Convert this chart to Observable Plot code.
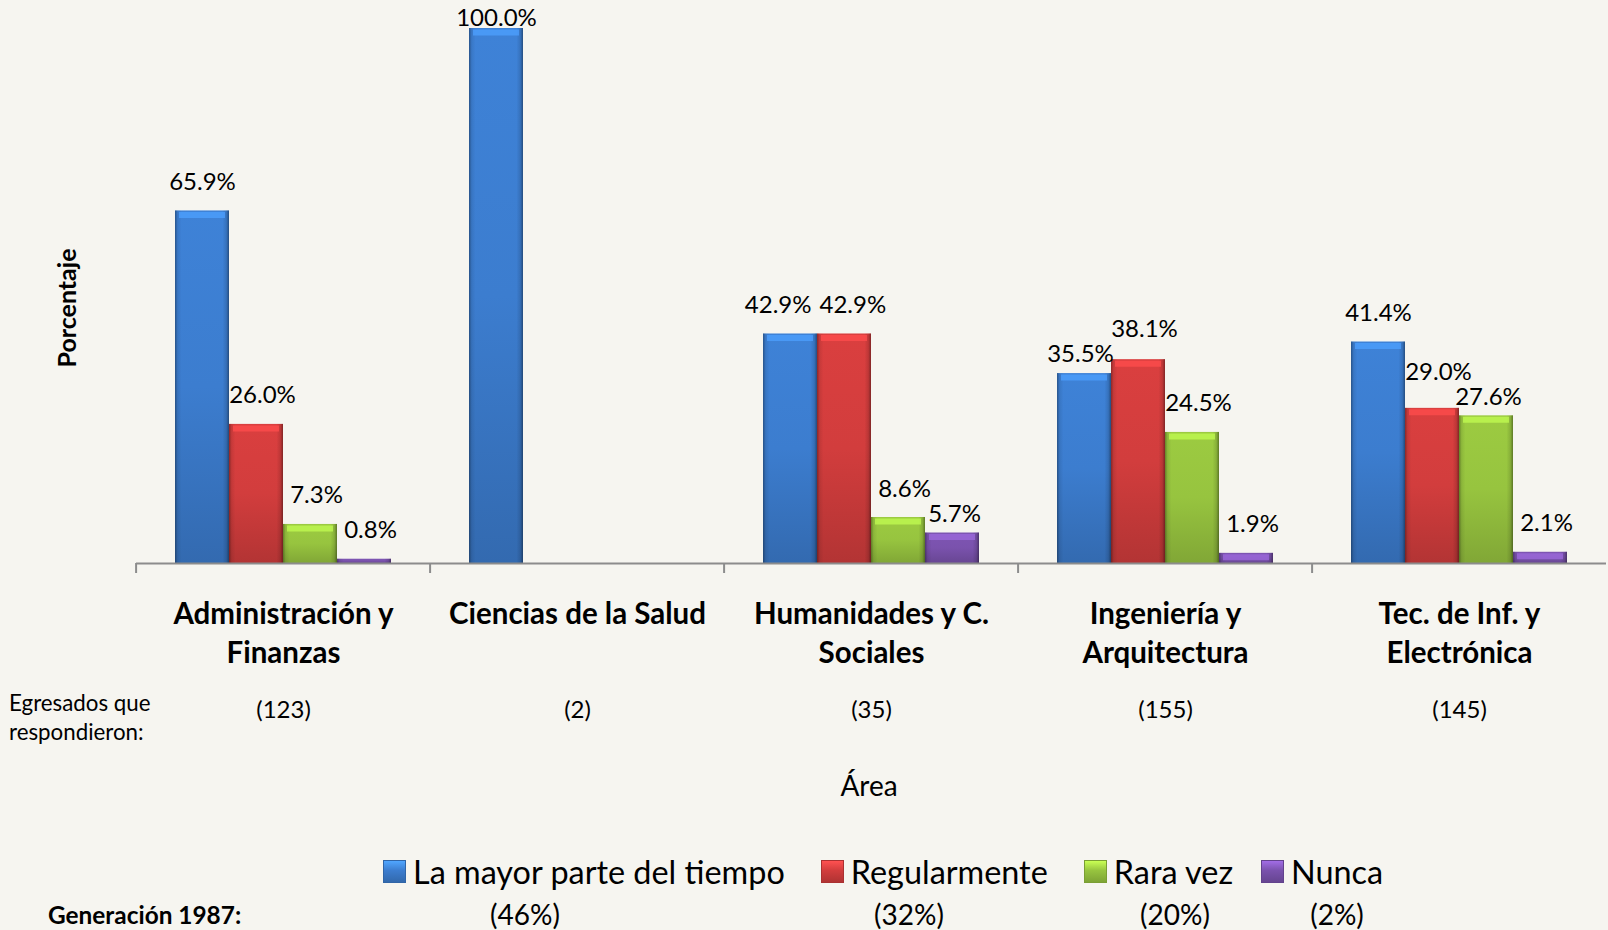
<!DOCTYPE html>
<html>
<head>
<meta charset="utf-8">
<script src="https://cdn.jsdelivr.net/npm/d3@7"></script>
<script src="https://cdn.jsdelivr.net/npm/@observablehq/plot@0.6"></script>
<style>
  html, body { margin: 0; padding: 0; background: #f6f5f0; }
  #wrap { position: relative; width: 1608px; height: 930px; overflow: hidden; font-family: Lato, "Open Sans", sans-serif; color: #000; }
  #chart { position: absolute; left: 0; top: 0; }
  .abs { position: absolute; white-space: nowrap; }
  #ylabel { left: 66px; top: 308px; transform: translate(-50%, -50%) rotate(-90deg); font-weight: bold; font-size: 25px; }
  #resp { left: 9px; top: 688px; font-size: 22.3px; line-height: 29px; }
  #xlabel { left: 869px; top: 785px; transform: translate(-50%, -50%); font-size: 28px; }
  #legend { left: 383px; top: 850px; height: 42px; display: flex; align-items: center; font-size: 32.4px; }
  .item { display: flex; align-items: center; margin-right: 36px; }
  .item:nth-child(3) { margin-right: 28px; }
  .sw { width: 23px; height: 23px; margin-right: 7px; box-sizing: border-box; }
  #gen { left: 48px; top: 914px; transform: translateY(-50%); font-weight: bold; font-size: 24.4px; }
  .gp { top: 914px; transform: translate(-50%, -50%); font-size: 28px; }
  g[aria-label="bars-fill"] { filter: drop-shadow(3px 3px 3px rgba(0,0,0,0.28)); }
</style>
</head>
<body>
<div id="wrap">
  <div id="chart"></div>
</div>
<script>
// ---- data ----
const areas = ["Administración y Finanzas", "Ciencias de la Salud", "Humanidades y C. Sociales", "Ingeniería y Arquitectura", "Tec. de Inf. y Electrónica"];
const areaLabels = ["Administración y\nFinanzas", "Ciencias de la Salud", "Humanidades y C.\nSociales", "Ingeniería y\nArquitectura", "Tec. de Inf. y\nElectrónica"];
const respondents = [123, 2, 35, 155, 145];
const series = ["La mayor parte del tiempo", "Regularmente", "Rara vez", "Nunca"];
const seriesColors = ["#3c7dcf", "#d23d3d", "#97c43f", "#7a52ad"];
const mayorParte = [65.9, 100.0, 42.9, 35.5, 41.4];
const regularmente = [26.0, null, 42.9, 38.1, 29.0];
const raraVez = [7.3, null, 8.6, 24.5, 27.6];
const nunca = [0.8, null, 5.7, 1.9, 2.1];
const generationLabel = "Generación 1987:";
const generationPct = [46, 32, 20, 2];
const yLabel = "Porcentaje";
const xLabel = "Área";
const respLabel = "Egresados que\nrespondieron:";

const seriesValues = [mayorParte, regularmente, raraVez, nunca];
const data = [];
series.forEach((s, j) => {
  areas.forEach((a, i) => {
    const v = seriesValues[j][i];
    if (v != null) data.push({area: a, series: s, value: v, k: j, i, place: v >= 100 ? "top" : "middle", ref: v});
  });
});
// label collision handling between neighbouring bars of the same area
areas.forEach((a, i) => {
  for (let j = 0; j < series.length - 1; j++) {
    const L = data.find(d => d.i === i && d.k === j);
    const R = data.find(d => d.i === i && d.k === j + 1);
    if (!L || !R || L.place !== "middle") continue;
    const diff = Math.abs(L.value - R.value);
    if (diff === 0) { L.place = "end"; R.place = "start"; }
    else if (diff < 4.5) {
      const [lo, hi] = L.value < R.value ? [L, R] : [R, L];
      lo.place = "low"; hi.place = "high"; hi.ref = lo.value;
    }
  }
});

const W = 1608, H = 850, ML = 134, MR = 0, MT = 28, MB = 287;
const fxStep = (W - ML - MR) / areas.length;
const fmt = d => d.value.toFixed(1) + "%";
const labelBase = {fx: "area", x: "series", y: "ref", text: fmt, fontSize: 24, fill: "#000"};
function labels(place, opts) {
  const dx = opts.dx || 0;
  return [
    Plot.text(data.filter(d => d.place === place && d.k === 0), {...labelBase, ...opts, dx}),
    Plot.text(data.filter(d => d.place === place && d.k > 0), {...labelBase, ...opts, dx: dx + (opts.textAnchor ? 0 : 6)})
  ];
}

const plot = Plot.plot({
  width: W,
  height: H,
  marginLeft: ML,
  marginRight: MR,
  marginTop: MT,
  marginBottom: MB,
  style: {background: "transparent", fontFamily: "Lato, 'Open Sans', sans-serif", color: "#000", overflow: "visible"},
  fx: {domain: areas, padding: 0, axis: null, label: null},
  x: {domain: series, paddingInner: 0, paddingOuter: 0.72, axis: null, label: null},
  y: {domain: [0, 100], axis: null, label: null},
  marks: [
    Plot.barY(data, {fx: "area", x: "series", y: "value", fill: d => `url(#gv${d.k})`, ariaLabel: "bars-fill"}),
    Plot.barY(data, {fx: "area", x: "series", y: "value", fill: "url(#edge)", ariaLabel: "bars-edge"}),
    Plot.tickY(data.filter(d => d.value >= 1.5), {fx: "area", x: "series", y: "value", dy: 4, strokeWidth: 6, insetLeft: 4, insetRight: 4, stroke: d => d3.color(seriesColors[d.k]).brighter(0.7).formatHex(), strokeOpacity: 0.75}),
    Plot.ruleY([0], {stroke: "#8c8c8c", strokeWidth: 2}),
    Plot.axisFx({anchor: "bottom", tickSize: 10, tickFormat: () => "", stroke: "#8c8c8c", strokeWidth: 2, dx: -fxStep / 2}),
    ...labels("middle", {dy: -29}),
    ...labels("low", {dy: -19, dx: -4}),
    ...labels("high", {dy: -44}),
    ...labels("end", {dy: -29, textAnchor: "end", dx: 21}),
    ...labels("start", {dy: -29, textAnchor: "start", dx: -25}),
    ...labels("top", {dy: -10}),
    Plot.text(areas, {fx: d => d, text: (d, i) => areaLabels[i], frameAnchor: "bottom", dy: 33, lineAnchor: "top", lineHeight: 1.32, fontSize: 29.5, fontWeight: "bold", fill: "#000"}),
    Plot.text(areas, {fx: d => d, text: (d, i) => `(${respondents[i]})`, frameAnchor: "bottom", dy: 154, fontSize: 24, fill: "#000"})
  ]
});

// gradients
const ns = "http://www.w3.org/2000/svg";
const defs = document.createElementNS(ns, "defs");
function grad(id, vertical, stops) {
  const g = document.createElementNS(ns, "linearGradient");
  g.setAttribute("id", id);
  g.setAttribute("x1", "0"); g.setAttribute("y1", "0");
  g.setAttribute("x2", vertical ? "0" : "1"); g.setAttribute("y2", vertical ? "1" : "0");
  stops.forEach(([o, c, op]) => {
    const s = document.createElementNS(ns, "stop");
    s.setAttribute("offset", o);
    s.setAttribute("stop-color", c);
    s.setAttribute("stop-opacity", op == null ? 1 : op);
    g.appendChild(s);
  });
  defs.appendChild(g);
}
seriesColors.forEach((c, k) => {
  const col = d3.color(c);
  grad(`gv${k}`, true, [["0", col.brighter(0.1).formatHex()], ["0.5", col.formatHex()], ["1", col.darker(0.45).formatHex()]]);
});
grad("edge", false, [["0", "#000", 0.35], ["0.05", "#000", 0.08], ["0.12", "#000", 0], ["0.88", "#000", 0], ["0.95", "#000", 0.12], ["1", "#000", 0.4]]);
const svg = plot.tagName.toLowerCase() === "svg" ? plot : plot.querySelector("svg");
svg.insertBefore(defs, svg.firstChild);
document.getElementById("chart").appendChild(plot);

// overlay texts
const wrap = document.getElementById("wrap");
function addDiv(id, cls, html) {
  const d = document.createElement("div");
  if (id) d.id = id;
  d.className = cls;
  d.innerHTML = html;
  wrap.appendChild(d);
  return d;
}
addDiv("ylabel", "abs", yLabel);
addDiv("resp", "abs", respLabel.replace("\n", "<br>"));
addDiv("xlabel", "abs", xLabel);
const legend = addDiv("legend", "abs", "");
series.forEach((s, k) => {
  const col = d3.color(seriesColors[k]);
  const it = document.createElement("div");
  it.className = "item";
  const sw = document.createElement("div");
  sw.className = "sw";
  sw.style.background = `linear-gradient(180deg, ${col.brighter(0.8).formatHex()} 0%, ${col.formatHex()} 45%, ${col.darker(0.5).formatHex()} 100%)`;
  sw.style.border = `1px solid ${col.darker(0.6).formatHex()}`;
  const tx = document.createElement("span");
  tx.textContent = s;
  it.appendChild(sw); it.appendChild(tx);
  legend.appendChild(it);
});
addDiv("gen", "abs", generationLabel);
const gpX = [525, 909, 1175, 1337];
generationPct.forEach((p, k) => {
  const d = addDiv(null, "abs gp", `(${p}%)`);
  d.style.left = gpX[k] + "px";
});
</script>
</body>
</html>
